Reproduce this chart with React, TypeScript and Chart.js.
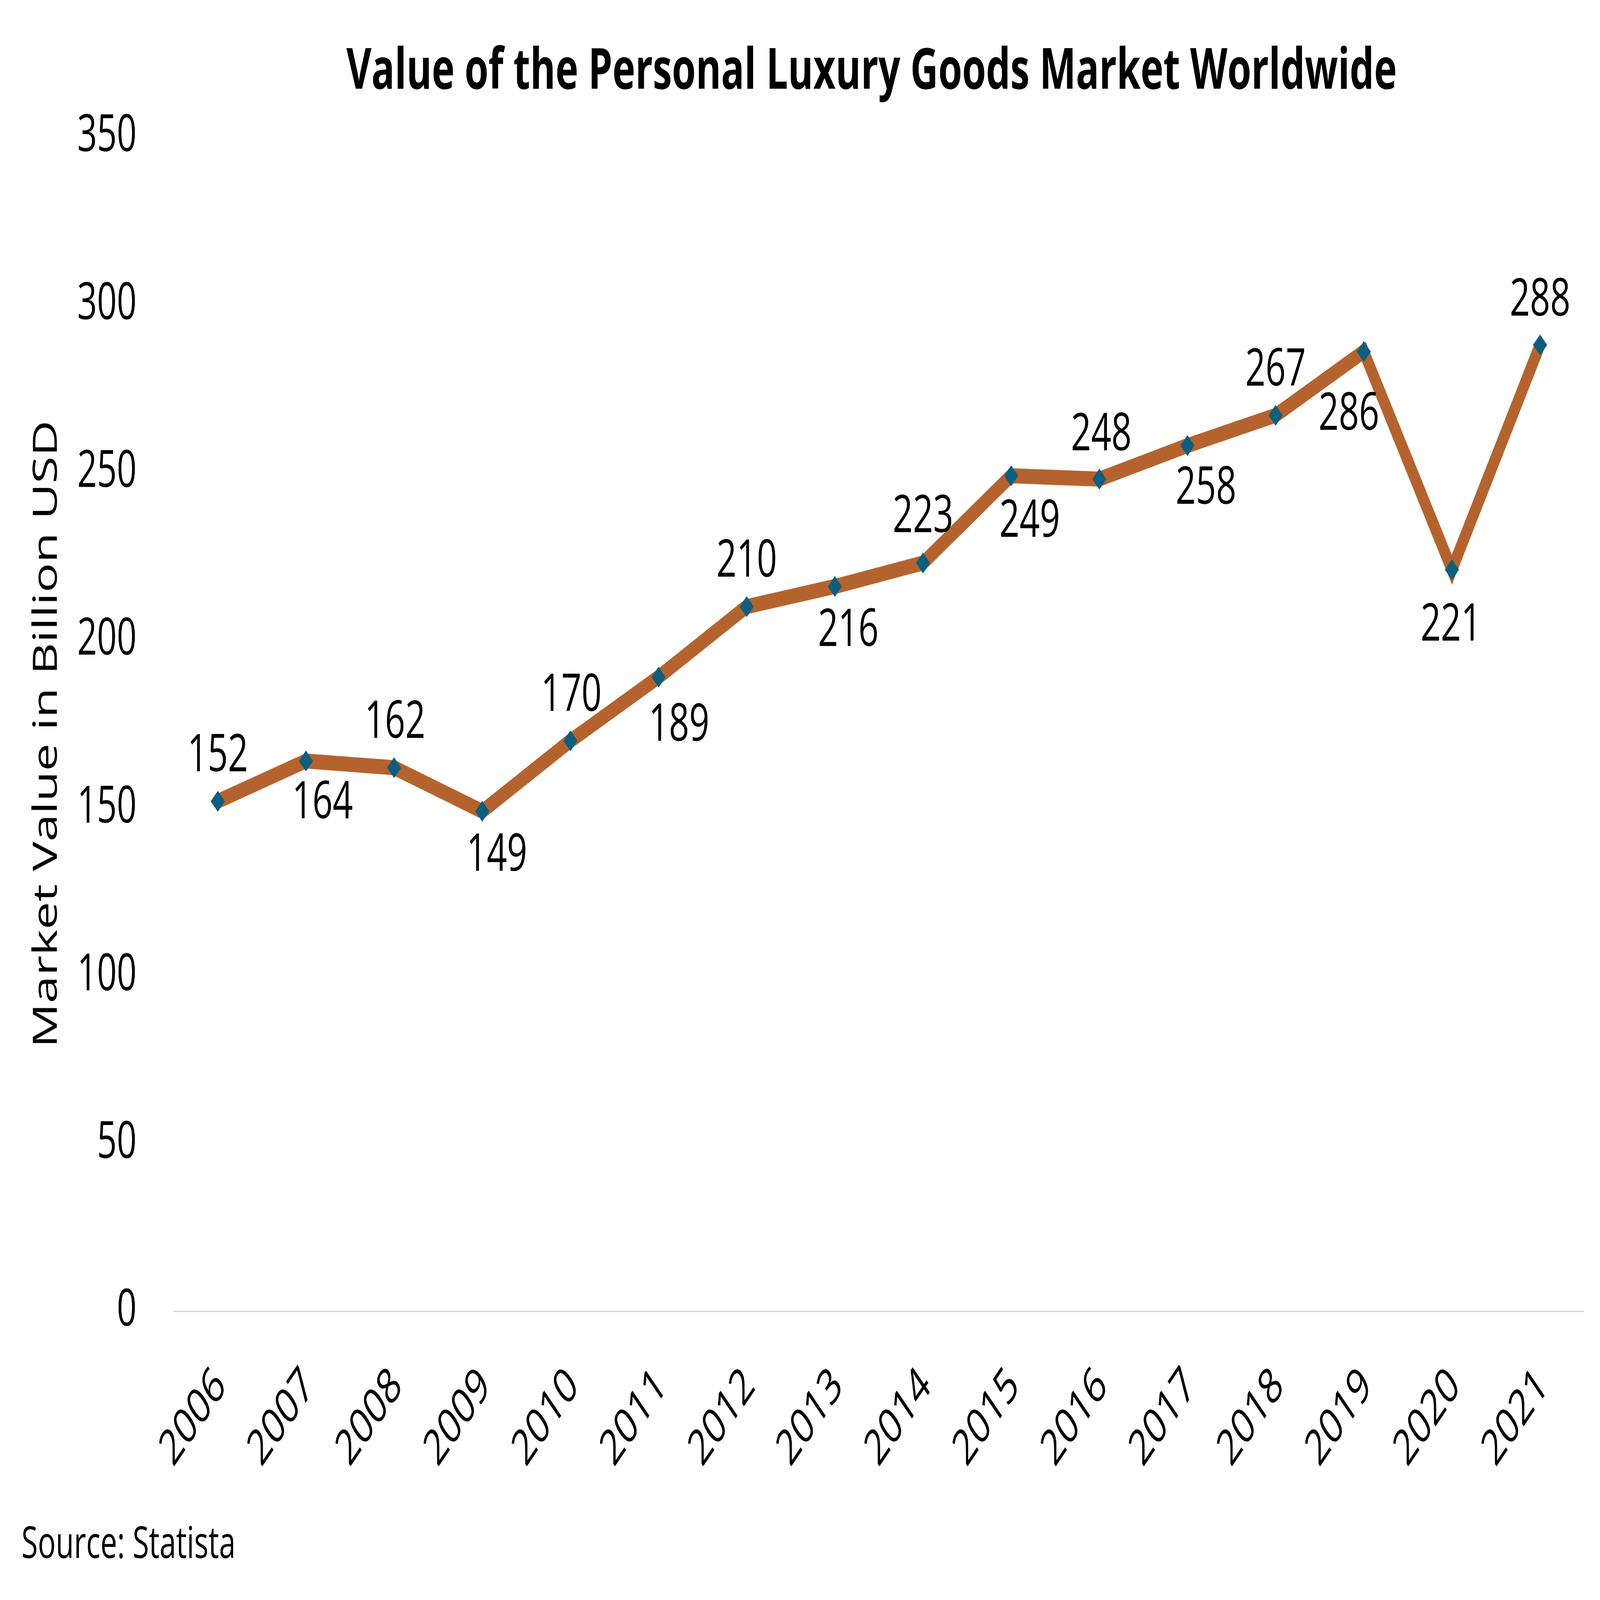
import React, { useEffect, useRef } from 'react';
import { Chart, registerables } from 'chart.js';

Chart.register(...registerables);

// ---- data ----
const years = ['2006', '2007', '2008', '2009', '2010', '2011', '2012', '2013', '2014', '2015', '2016', '2017', '2018', '2019', '2020', '2021'];
const marketValue = [152, 164, 162, 149, 170, 189, 210, 216, 223, 249, 248, 258, 267, 286, 221, 288];
const yTickValues = [0, 50, 100, 150, 200, 250, 300, 350];

// label nudges (pixels, relative to each point)
const labelDx = [0, 68, 4, 60, 4, 84, 0, 55, 0, 76, 8, 76, 0, -61, -4, 0];
const labelDy = [-135, 108, -135, 114, -135, 125, -135, 114, -138, 118, -132, 110, -135, 166, 145, -133];

const W = 6558;
const H = 4456;
const FONT = '"Open Sans", "Noto Sans", sans-serif';

export default function App() {
  const ref = useRef<HTMLCanvasElement>(null);
  const vw = typeof window !== 'undefined' ? window.innerWidth : W;
  const vh = typeof window !== 'undefined' ? window.innerHeight : H;

  useEffect(() => {
    const canvas = ref.current;
    if (!canvas) return;

    const valueLabels = {
      id: 'valueLabels',
      afterDatasetsDraw(chart: any) {
        const ctx = chart.ctx;
        const meta = chart.getDatasetMeta(0);
        ctx.save();
        ctx.font = `145px ${FONT}`;
        ctx.fillStyle = '#000';
        ctx.textAlign = 'center';
        ctx.textBaseline = 'alphabetic';
        meta.data.forEach((pt: any, i: number) => {
          ctx.fillText(String(marketValue[i]), pt.x + labelDx[i], pt.y + labelDy[i] + 52);
        });
        ctx.restore();
      },
    };

    const texts = {
      id: 'texts',
      afterDraw(chart: any) {
        const ctx = chart.ctx;
        const area = chart.chartArea;
        ctx.save();
        ctx.fillStyle = '#000';
        ctx.textBaseline = 'alphabetic';
        ctx.textAlign = 'center';
        ctx.font = `bold 158px ${FONT}`;
        ctx.fillText('Value of the Personal Luxury Goods Market Worldwide', (area.left + area.right) / 2 - 30, 247);
        ctx.textAlign = 'left';
        ctx.font = `122px ${FONT}`;
        ctx.fillText('Source: Statista', 88, 4339);
        // y-axis title
        ctx.save();
        ctx.translate(194, (area.top + area.bottom) / 2 + 28);
        ctx.rotate(-Math.PI / 2);
        ctx.textAlign = 'center';
        ctx.textBaseline = 'middle';
        ctx.font = `138px ${FONT}`;
        ctx.fillText('Market Value in Billion USD', 0, 0);
        ctx.restore();
        ctx.restore();
      },
    };

    const chart = new Chart(canvas, {
      type: 'line',
      data: {
        labels: years,
        datasets: [
          {
            data: marketValue,
            borderColor: '#b5632e',
            borderWidth: 42,
            tension: 0,
            fill: false,
            pointStyle: 'rectRot',
            pointRadius: 29,
            pointHoverRadius: 29,
            pointBackgroundColor: '#0e5e7d',
            pointBorderColor: '#0e5e7d',
            pointBorderWidth: 0,
          },
        ],
      },
      options: {
        animation: false,
        responsive: false,
        devicePixelRatio: 1,
        layout: { padding: { top: 381, right: 51, left: 0, bottom: 0 } },
        plugins: {
          legend: { display: false },
          title: { display: false },
          tooltip: { enabled: false },
        },
        scales: {
          x: {
            type: 'category',
            offset: true,
            grid: { display: false, drawTicks: false },
            border: { display: true, color: '#d9d9d9', width: 4 },
            ticks: {
              color: '#000',
              font: { family: FONT, size: 138 },
              minRotation: 45,
              maxRotation: 45,
              padding: 127,
              labelOffset: 12,
              autoSkip: false,
            },
            afterFit(scale: any) {
              scale.height = H - 3652;
            },
          },
          y: {
            min: yTickValues[0],
            max: yTickValues[yTickValues.length - 1],
            grid: { display: false, drawTicks: false },
            border: { display: false },
            afterBuildTicks(scale: any) {
              scale.ticks = yTickValues.map((v) => ({ value: v }));
            },
            ticks: {
              color: '#000',
              font: { family: FONT, size: 142 },
              padding: 152,
            },
            title: { display: false },
            afterFit(scale: any) {
              scale.width = 712;
            },
          },
        },
      },
      plugins: [valueLabels, texts],
    } as any);

    return () => chart.destroy();
  }, []);

  return (
    <div style={{ position: 'fixed', left: 0, top: 0, width: vw, height: vh, background: '#fff', overflow: 'hidden' }}>
      <canvas ref={ref} width={W} height={H} style={{ width: vw, height: vh, display: 'block' }} />
    </div>
  );
}
